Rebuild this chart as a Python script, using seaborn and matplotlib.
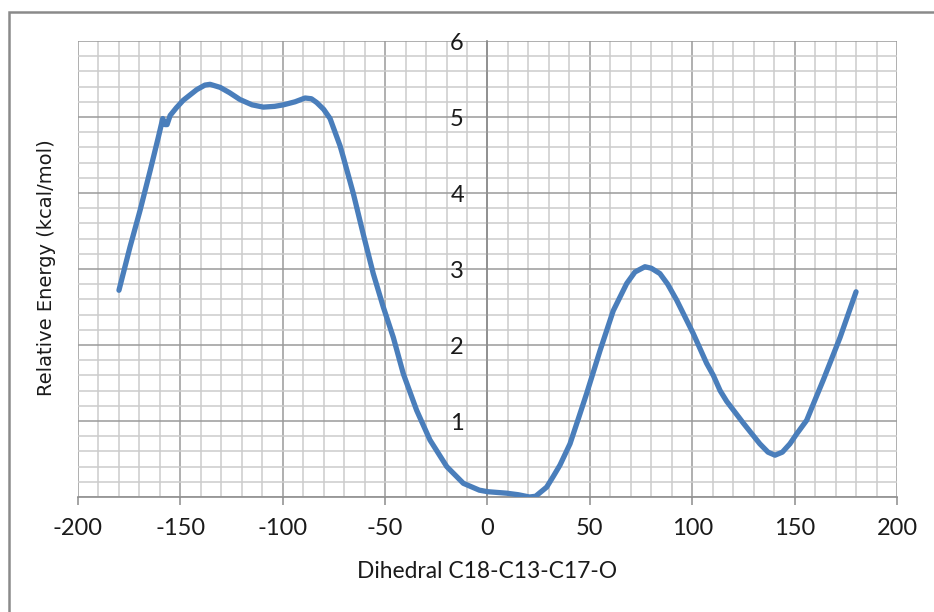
import matplotlib
matplotlib.use("Agg")
import matplotlib.pyplot as plt
import seaborn as sns
import pandas as pd
from matplotlib.patches import Rectangle
from matplotlib.ticker import MultipleLocator

dihedral = [-180, -174.6, -169.7, -164.8, -160.8, -158.6, -157.5, -156.5, -155, -152,
            -148.6, -142, -138, -135.5, -130.6, -126, -120.9, -115, -109.5, -104,
            -99.7, -94, -89.1, -86, -83.4, -80, -76.9, -72, -70.4, -65.5,
            -60.7, -55.8, -50.9, -46, -41.1, -34.6, -28.1, -19.9, -11.8, -4,
            0, 9.4, 15, 20.5, 23.5, 28.9, 32.1, 35.4, 40.3, 44,
            48.4, 55, 61.4, 68, 72, 76.9, 80, 84.2, 88, 92.4,
            100.5, 107, 110.3, 113.6, 116.8, 125, 133, 137, 140.4, 144,
            147.7, 151, 155.9, 160, 164, 172.2, 180]
energy = [2.72, 3.29, 3.77, 4.29, 4.73, 4.98, 4.90, 4.90, 5.02, 5.12,
          5.22, 5.36, 5.42, 5.43, 5.39, 5.32, 5.23, 5.16, 5.13, 5.14,
          5.16, 5.20, 5.25, 5.24, 5.19, 5.10, 4.98, 4.62, 4.47, 3.99,
          3.46, 2.94, 2.50, 2.10, 1.62, 1.14, 0.75, 0.40, 0.18, 0.09,
          0.07, 0.05, 0.03, 0.0, 0.01, 0.13, 0.27, 0.42, 0.70, 1.00,
          1.36, 1.93, 2.45, 2.81, 2.96, 3.03, 3.01, 2.94, 2.80, 2.59,
          2.15, 1.76, 1.60, 1.40, 1.26, 0.97, 0.70, 0.59, 0.55, 0.59,
          0.70, 0.83, 1.01, 1.28, 1.54, 2.10, 2.70]

x_ticks = [-200, -150, -100, -50, 0, 50, 100, 150, 200]
y_ticks = [1, 2, 3, 4, 5, 6]
x_label = "Dihedral C18-C13-C17-O"
y_label = "Relative Energy (kcal/mol)"

df = pd.DataFrame({"x": dihedral, "y": energy})

sns.set_style("white")
plt.rcParams["font.family"] = ["Lato", "DejaVu Sans"]

fig = plt.figure(figsize=(9.34, 6.12), dpi=100)
ax = fig.add_axes([78 / 934, 1 - 497 / 612, (897 - 78) / 934, (497 - 41) / 612])

ax.set_xlim(-200, 200)
ax.set_ylim(0, 6)

ax.set_xticks(x_ticks)
ax.xaxis.set_minor_locator(MultipleLocator(10))
ax.set_yticks(y_ticks)
ax.yaxis.set_minor_locator(MultipleLocator(0.2))

ax.grid(which="minor", color="#cccccc", linewidth=1.1)
ax.grid(which="major", color="#9a9a9a", linewidth=1.1)
ax.set_axisbelow(True)

sns.lineplot(data=df, x="x", y="y", ax=ax, color="#4a7ebb", linewidth=3.8,
             sort=False, estimator=None, zorder=5,
             solid_joinstyle="round", solid_capstyle="round")

for s in ["top", "right"]:
    ax.spines[s].set_visible(False)
ax.spines["left"].set_position(("data", 0))
ax.spines["left"].set_color("#8c8c8c")
ax.spines["left"].set_linewidth(1.2)
ax.spines["bottom"].set_color("#8c8c8c")
ax.spines["bottom"].set_linewidth(1.2)

ax.tick_params(axis="x", which="major", direction="out", length=6, width=1.1,
               color="#8c8c8c", pad=9, labelsize=17, labelcolor="#1a1a1a", bottom=True)
ax.tick_params(axis="x", which="minor", length=0)
ax.tick_params(axis="y", which="both", length=0, pad=17, labelsize=17, labelcolor="#1a1a1a")
ax.set_xticklabels([str(v) for v in x_ticks])
ax.set_yticklabels([str(v) for v in y_ticks])

ax.set_xlabel("")
ax.set_ylabel("")
fig.text(487 / 934, 1 - 572 / 612, x_label, ha="center", va="center",
         fontsize=16.4, color="#1a1a1a")
fig.text(47 / 934, 1 - 268 / 612, y_label, ha="center", va="center",
         rotation=90, fontsize=14, color="#1a1a1a", family=["DejaVu Sans"])

fig.patches.append(Rectangle((9 / 934, -0.1), 1.2, 1 - 12 / 612 + 0.1,
                             transform=fig.transFigure, fill=False,
                             edgecolor="#8a8a8a", linewidth=1.8, zorder=0))

fig.savefig("out.png", dpi=100)
